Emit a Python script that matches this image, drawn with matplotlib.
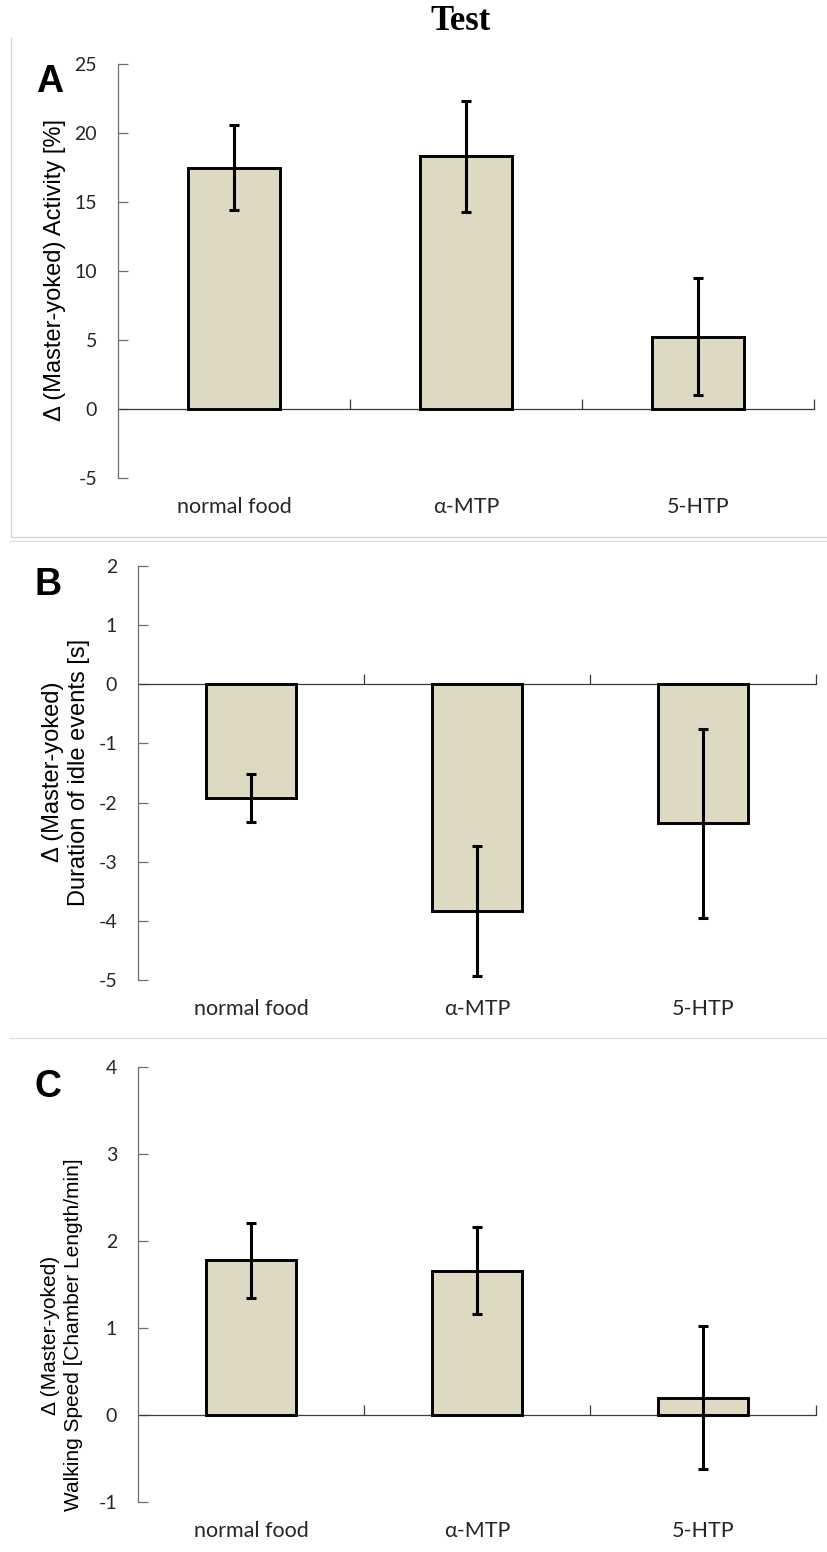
import matplotlib
matplotlib.use("Agg")
import matplotlib.pyplot as plt
from matplotlib.lines import Line2D

# ---- data -------------------------------------------------------------
categories = ["normal food", "α-MTP", "5-HTP"]

activity_mean = [17.5, 18.3, 5.25]
activity_err = [3.05, 4.0, 4.25]

idle_mean = [-1.92, -3.83, -2.35]
idle_err = [0.41, 1.1, 1.6]

speed_mean = [1.78, 1.66, 0.2]
speed_err = [0.43, 0.5, 0.82]

activity_ticks = [-5, 0, 5, 10, 15, 20, 25]
idle_ticks = [-5, -4, -3, -2, -1, 0, 1, 2]
speed_ticks = [-1, 0, 1, 2, 3, 4]

# ---- styling ----------------------------------------------------------
W, H = 827, 1552
BAR_FILL = "#DDD9C3"
SPINE = "#6f6f6f"
TICK_TXT = "#262626"
TICK_FONT = ["Lato", "DejaVu Sans"]
LABEL_FONT = ["Liberation Sans", "DejaVu Sans"]

fig = plt.figure(figsize=(W / 100, H / 100), dpi=100)


def axes_px(left, top, right, bottom):
    return fig.add_axes([left / W, 1 - bottom / H, (right - left) / W, (bottom - top) / H])


def fig_xy(x, y):
    return x / W, 1 - y / H


def bar_panel(ax, means, errs, ticks):
    x = list(range(len(categories)))
    ax.bar(x, means, width=0.4, color=BAR_FILL, edgecolor="black",
           linewidth=2.1, zorder=3)
    ax.errorbar(x, means, yerr=errs, fmt="none", ecolor="black",
                elinewidth=2.2, capsize=3.8, capthick=2.2, zorder=4)
    ax.set_xlim(-0.5, len(categories) - 0.5)
    ax.set_ylim(ticks[0], ticks[-1])
    ax.set_yticks(ticks)
    ax.set_yticklabels([str(t) for t in ticks], fontfamily=TICK_FONT,
                       fontsize=14, color=TICK_TXT)
    ax.tick_params(axis="y", direction="in", length=7, width=0.9,
                   color=SPINE, pad=15)

    for side in ("top", "right"):
        ax.spines[side].set_visible(False)
    ax.spines["left"].set_color(SPINE)
    ax.spines["left"].set_linewidth(0.9)

    # category axis line runs through zero, with ticks between groups
    ax.spines["bottom"].set_position(("data", 0))
    ax.spines["bottom"].set_color("#3a3a3a")
    ax.spines["bottom"].set_linewidth(0.9)
    ax.spines["bottom"].set_zorder(2)
    ax.set_xticks([i + 0.5 for i in x])
    ax.tick_params(axis="x", direction="in", length=7, width=0.9,
                   color="#3a3a3a", labelbottom=False)

    # category names sit below the plot area
    sec = ax.secondary_xaxis("bottom")
    sec.spines["bottom"].set_visible(False)
    sec.set_xticks(x)
    sec.set_xticklabels(categories, fontfamily=TICK_FONT, fontsize=15.5,
                        color=TICK_TXT)
    sec.tick_params(axis="x", length=0, pad=14)


# ---- panel A ----------------------------------------------------------
ax_a = axes_px(118, 64, 814, 478)
bar_panel(ax_a, activity_mean, activity_err, activity_ticks)
fig.text(*fig_xy(55, 270), "Δ (Master-yoked) Activity [%]", rotation=90,
         ha="center", va="center", fontfamily=LABEL_FONT, fontsize=17)

# ---- panel B ----------------------------------------------------------
ax_b = axes_px(138, 566, 816, 980)
bar_panel(ax_b, idle_mean, idle_err, idle_ticks)
fig.text(*fig_xy(66, 772), "Δ (Master-yoked)\nDuration of idle events [s]",
         rotation=90, ha="center", va="center", multialignment="center",
         fontfamily=LABEL_FONT, fontsize=17, linespacing=1.2)

# ---- panel C ----------------------------------------------------------
ax_c = axes_px(138, 1067, 816, 1502)
bar_panel(ax_c, speed_mean, speed_err, speed_ticks)
fig.text(*fig_xy(62, 1335), "Δ (Master-yoked)\nWalking Speed [Chamber Length/min]",
         rotation=90, ha="center", va="center", multialignment="center",
         fontfamily=LABEL_FONT, fontsize=15, linespacing=1.25)

# ---- title, panel letters --------------------------------------------
fig.text(*fig_xy(461, 22), "Test", ha="center", va="center",
         fontfamily=["Liberation Serif", "DejaVu Serif"], fontweight="bold",
         fontsize=25)
for letter, (lx, ly) in zip("ABC", [(50, 82), (48, 585), (48, 1087)]):
    fig.text(*fig_xy(lx, ly), letter, ha="center", va="center",
             fontfamily=LABEL_FONT, fontweight="bold", fontsize=27)

# ---- frame and separators --------------------------------------------
def hline_px(x0, x1, y, color, lw=1.0):
    fig.add_artist(Line2D([x0 / W, x1 / W], [1 - y / H, 1 - y / H],
                          transform=fig.transFigure, color=color, lw=lw))


fig.add_artist(Line2D([11 / W, 11 / W], [1 - 38 / H, 1 - 537 / H],
                      transform=fig.transFigure, color="#d4d4d4", lw=0.9))
hline_px(11, W, 537, "#d4d4d4", 0.9)
hline_px(10, W, 541, "#dedede", 0.9)
hline_px(10, W, 1038, "#dedede", 0.9)

fig.savefig("out.png", dpi=100)
